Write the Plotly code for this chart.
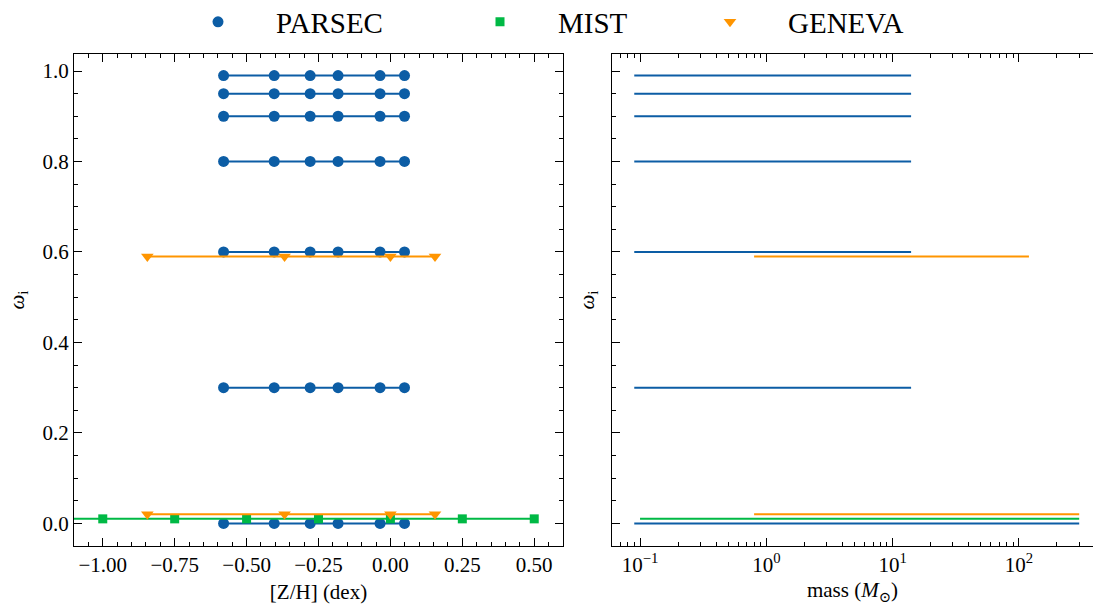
import plotly.graph_objects as go

# ---- grid coverage of the three model sets ----
# PARSEC: metallicities and initial rotation rates
parsec_zh = [-0.580, -0.404, -0.279, -0.182, -0.036, 0.049]
parsec_omega = [0.0, 0.3, 0.6, 0.8, 0.9, 0.95, 0.99]
parsec_mass_min = [0.09, 0.09, 0.09, 0.09, 0.09, 0.09, 0.09]
parsec_mass_max = [300.0, 14.0, 14.0, 14.0, 14.0, 14.0, 14.0]

# MIST (single rotation value, offset slightly for visibility)
mist_zh = [-4.0, -3.5, -3.0, -2.5, -2.0, -1.75, -1.5, -1.25, -1.0, -0.75,
           -0.5, -0.25, 0.0, 0.25, 0.5]
mist_omega = [0.01]
mist_mass_min = [0.1]
mist_mass_max = [300.0]

# GENEVA
geneva_zh = [-0.845, -0.368, 0.0, 0.155]
geneva_omega = [0.02, 0.59]
geneva_mass_min = [0.8, 0.8]
geneva_mass_max = [300.0, 120.0]

C_PARSEC = "#0C5DA5"
C_MIST = "#00B945"
C_GENEVA = "#FF9500"

FONT = "'Liberation Serif', 'DejaVu Serif', serif"
W, H = 1093, 606

fig = go.Figure()

# left panel: [Z/H] vs omega
for om in parsec_omega:
    fig.add_trace(go.Scatter(
        x=parsec_zh, y=[om] * len(parsec_zh), mode="lines+markers",
        line=dict(color=C_PARSEC, width=2),
        marker=dict(symbol="circle", size=11, color=C_PARSEC),
        showlegend=False, xaxis="x", yaxis="y"))
for om in mist_omega:
    fig.add_trace(go.Scatter(
        x=mist_zh, y=[om] * len(mist_zh), mode="lines+markers",
        line=dict(color=C_MIST, width=2),
        marker=dict(symbol="square", size=9, color=C_MIST),
        showlegend=False, xaxis="x", yaxis="y"))
for om in geneva_omega:
    fig.add_trace(go.Scatter(
        x=geneva_zh, y=[om] * len(geneva_zh), mode="lines+markers",
        line=dict(color=C_GENEVA, width=2),
        marker=dict(symbol="triangle-down", size=11, color=C_GENEVA),
        showlegend=False, xaxis="x", yaxis="y"))

# right panel: mass coverage vs omega
for om, m0, m1 in zip(parsec_omega, parsec_mass_min, parsec_mass_max):
    fig.add_trace(go.Scatter(
        x=[m0, m1], y=[om, om], mode="lines",
        line=dict(color=C_PARSEC, width=2),
        showlegend=False, xaxis="x2", yaxis="y2"))
for om, m0, m1 in zip(mist_omega, mist_mass_min, mist_mass_max):
    fig.add_trace(go.Scatter(
        x=[m0, m1], y=[om, om], mode="lines",
        line=dict(color=C_MIST, width=2),
        showlegend=False, xaxis="x2", yaxis="y2"))
for om, m0, m1 in zip(geneva_omega, geneva_mass_min, geneva_mass_max):
    fig.add_trace(go.Scatter(
        x=[m0, m1], y=[om, om], mode="lines",
        line=dict(color=C_GENEVA, width=2),
        showlegend=False, xaxis="x2", yaxis="y2"))

# legend entries (marker only), one legend box per model set
legend_entries = [("PARSEC", C_PARSEC, "circle", 11, "legend", 218),
                  ("MIST", C_MIST, "square", 9, "legend2", 500),
                  ("GENEVA", C_GENEVA, "triangle-down", 11, "legend3", 730)]
for name, col, sym, sz, lg, _ in legend_entries:
    fig.add_trace(go.Scatter(
        x=[None], y=[None], mode="markers", name=name, legend=lg,
        marker=dict(symbol=sym, size=sz, color=col),
        xaxis="x", yaxis="y"))

ITEM_W = 106
legend_layout = {}
for name, col, sym, sz, lg, xc in legend_entries:
    legend_layout[lg] = dict(
        orientation="h", x=(xc - (ITEM_W + 10) / 2) / W, xanchor="left",
        y=1 - 22 / H, yanchor="middle",
        font=dict(family=FONT, size=29, color="black"),
        itemwidth=ITEM_W, bgcolor="rgba(0,0,0,0)", borderwidth=0)

ax_common = dict(
    showline=True, linecolor="black", linewidth=1.2, mirror="ticks",
    ticks="inside", ticklen=8, tickwidth=1.1, tickcolor="black",
    showgrid=False, zeroline=False,
    tickfont=dict(family=FONT, size=21, color="black"),
)

x_ticks = [-1.0, -0.75, -0.5, -0.25, 0.0, 0.25, 0.5]
x_ticktext = [f"{v:.2f}".replace("-", "\u2212") for v in x_ticks]
y_ticks = [0.0, 0.2, 0.4, 0.6, 0.8, 1.0]

dom_left = [74 / W, 563 / W]
dom_right = [612 / W, 1.0]
dom_y = [(H - 546) / H, (H - 54) / H]
y_range = [-0.050, 1.0376]

fig.update_layout(
    width=W, height=H,
    margin=dict(l=0, r=0, t=0, b=0, autoexpand=False),
    paper_bgcolor="white", plot_bgcolor="white",
    font=dict(family=FONT, color="black"),
    showlegend=True,
    **legend_layout,
    xaxis=dict(**ax_common, domain=dom_left, range=[-1.1, 0.6],
               tickvals=x_ticks, ticktext=x_ticktext,
               minor=dict(ticks="inside", ticklen=4, tickwidth=1,
                          tickcolor="black", dtick=0.05, tick0=0),
               title=dict(text="[Z/H] (dex)",
                          font=dict(family=FONT, size=21), standoff=8),
               anchor="y"),
    yaxis=dict(**ax_common, domain=dom_y, range=y_range,
               tickvals=y_ticks, tickformat=".1f",
               minor=dict(ticks="inside", ticklen=4, tickwidth=1,
                          tickcolor="black", dtick=0.05, tick0=0),
               title=dict(text="<i>ω</i><sub>i</sub>",
                          font=dict(family=FONT, size=21), standoff=12),
               anchor="x"),
    xaxis2=dict(**ax_common, domain=dom_right, type="log",
                range=[-1.222, -1.222 + (W - 612) / 126.3],
                tickvals=[0.1, 1, 10, 100],
                ticktext=["10<sup>\u22121</sup>", "10<sup>0</sup>",
                          "10<sup>1</sup>", "10<sup>2</sup>"],
                minor=dict(ticks="inside", ticklen=4, tickwidth=1,
                           tickcolor="black", tickmode="array",
                           tickvals=[k * 10 ** e for e in (-2, -1, 0, 1, 2)
                                     for k in range(2, 10)]),
                title=dict(text="mass (<i>M</i><sub>⊙</sub>)",
                           font=dict(family=FONT, size=21), standoff=6),
                anchor="y2"),
    yaxis2=dict(showline=True, linecolor="black", linewidth=1.2, mirror=False,
                ticks="inside", ticklen=8, tickwidth=1.1, tickcolor="black",
                showgrid=False, zeroline=False, showticklabels=False,
                domain=dom_y, range=y_range, tickvals=y_ticks,
                minor=dict(ticks="inside", ticklen=4, tickwidth=1,
                           tickcolor="black", dtick=0.05, tick0=0),
                title=dict(text="<i>ω</i><sub>i</sub>",
                           font=dict(family=FONT, size=21), standoff=10),
                anchor="x2"),
)

fig.write_html("out.html")
